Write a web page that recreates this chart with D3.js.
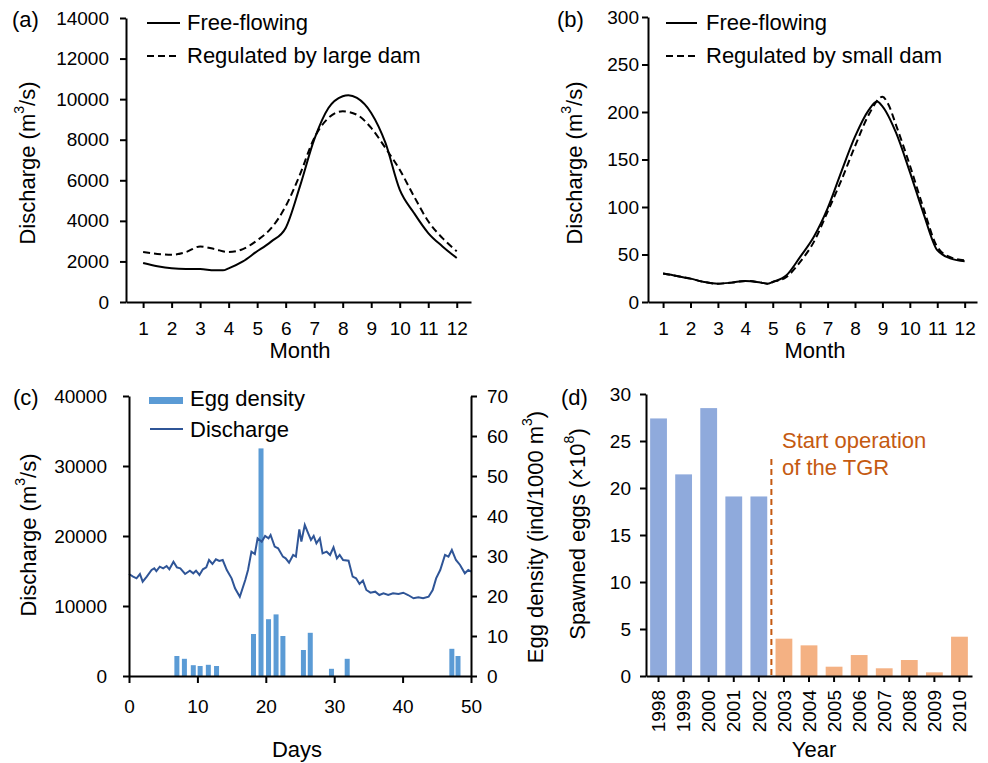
<!DOCTYPE html>
<html>
<head>
<meta charset="utf-8">
<script src="https://cdn.jsdelivr.net/npm/d3@7"></script>
<style>
  body { margin: 0; background: #fff; }
  svg { display: block; font-family: "Liberation Sans", Arial, sans-serif; }
  .axis path, .axis line { stroke: #000; stroke-width: 2; }
  .axis text { font-size: 19px; fill: #000; }
</style>
</head>
<body>
<script>
// (a) large dam, monthly discharge (m3/s)
const aMonths = [1,1.5,2,2.5,3,3.5,3.8,4,4.5,5,5.3,5.5,6,6.5,7,7.5,8,8.2,8.5,9,9.5,10,10.5,11,11.5,12];
const aFree = [1920,1760,1660,1630,1630,1560,1560,1660,2000,2500,2780,2990,3650,5700,8000,9560,10140,10190,10060,9320,7840,5540,4390,3400,2740,2170];
const aRegMonths = [1,1.5,2,2.5,3,3.5,4,4.5,5,5.5,6,6.5,7,7.5,8,8.5,9,9.5,10,10.5,11,11.5,12];
const aReg = [2460,2370,2330,2460,2740,2610,2460,2610,3040,3650,4720,6280,8080,9070,9400,9230,8580,7590,6520,5210,3980,3150,2500];

// (b) small dam
const bMonths = [1,1.5,2,2.5,3,3.5,4,4.5,4.8,5,5.5,6,6.5,7,7.5,8,8.5,8.8,9,9.5,10,10.5,11,11.5,12];
const bFree = [29.9,27.4,24.6,21.1,19.3,20.4,22.2,20.8,19.3,21.1,28.1,47.5,68.6,98.5,137,174,202,211,206,178,137,93,54.5,45.7,42.9];
const bRegMonths = [1,1.5,2,2.5,3,3.5,4,4.5,4.8,5,5.5,6,6.5,7,7.5,8,8.5,9,9.2,9.5,10,10.5,11,11.5,12];
const bReg = [29.9,27.4,24.6,21.1,19.3,20.4,22.2,20.8,19.3,21.1,26.4,42.2,63.3,95,128,164,197,216,209,186,144,98.5,58,46.8,44];

// (c) egg density and discharge over days
const eggDays = [7,8.1,9.4,10.4,11.6,12.8,18.2,19.3,20.4,21.5,22.5,25.5,26.5,29.6,31.9,47.2,48.1];
const eggDensity = [5,4.3,2.7,2.5,2.8,2.5,10.5,56.9,14.2,15.4,10,6.5,10.8,1.8,4.3,6.8,5];
const flowDays = [0,0.6,1.1,1.6,2,2.6,3.3,3.7,4,4.5,5,5.5,5.9,6.5,7,7.5,8.2,8.9,9.4,9.8,10.3,10.8,11.3,11.7,12.2,12.7,13.2,13.7,14.3,15,15.5,16.2,17,17.4,17.9,18.4,18.8,19.4,19.9,20.4,20.7,21.3,21.8,22.5,22.9,23.4,24,24.4,24.9,25.2,25.7,26.2,26.6,27,27.4,27.9,28.3,28.9,29.4,29.9,30.4,30.8,31.3,32.1,32.7,33.2,33.7,34.2,34.7,35.3,36,36.6,37.2,37.9,38.6,39.4,40.1,40.8,41.6,42.3,43,43.8,44.4,44.9,45.5,46.2,46.7,47.2,47.8,48.4,49.1,49.6,50];
const flow = [14570,14200,13950,14570,13480,14200,15140,15380,15000,15620,15380,15710,15240,16330,15520,15380,14570,15050,14670,15050,14430,15240,15520,16570,16000,16670,16430,16570,15140,13950,12520,11330,13710,15140,17760,17430,19670,19190,20000,19670,20140,18480,18240,17050,16810,16190,17290,17050,20950,19190,21570,20380,19430,20000,18950,19670,17520,17760,17290,18380,16810,17290,16570,16480,14190,13950,13140,13620,12290,11900,12050,11570,11810,11570,11810,11710,11900,11570,11100,11240,11100,11330,12290,13950,15140,17290,17050,18000,16570,15860,14670,15140,14900];

// (d) spawned eggs per year (x10^8)
const years = ["1998","1999","2000","2001","2002","2003","2004","2005","2006","2007","2008","2009","2010"];
const spawned = [27.4,21.45,28.5,19.1,19.1,3.97,3.26,0.99,2.23,0.82,1.7,0.39,4.18];

const svg = d3.select("body").append("svg").attr("width", 988).attr("height", 763);
const fmt = d3.format("d");

function txt(x, y, s, size, opts) {
  const t = svg.append("text").attr("x", x).attr("y", y).attr("font-size", size).text(s);
  if (opts && opts.anchor) t.attr("text-anchor", opts.anchor);
  if (opts && opts.fill) t.attr("fill", opts.fill);
  return t;
}
function vlabel(cx, cy, parts) {
  // rotated axis title with optional superscript
  const t = svg.append("text")
    .attr("transform", "translate(" + cx + "," + cy + ") rotate(-90)")
    .attr("text-anchor", "middle").attr("dominant-baseline", "central")
    .attr("font-size", 22);
  parts.forEach(p => {
    const s = t.append("tspan").text(p[0]);
    if (p[1]) s.attr("font-size", 14).attr("dy", -8);
    if (p[2]) s.attr("dy", 8);
  });
}

// ---------- (a) ----------
const xa = d3.scaleLinear().domain([0.4, 12.5]).range([126, 471]);
const ya = d3.scaleLinear().domain([0, 14000]).range([302, 18]);
svg.append("g").attr("class", "axis").attr("transform", "translate(0,302)")
  .call(d3.axisBottom(xa).tickValues(d3.range(1, 13)).tickFormat(fmt).tickSizeInner(6).tickSizeOuter(0).tickPadding(14));
svg.append("g").attr("class", "axis").attr("transform", "translate(126,0)")
  .call(d3.axisLeft(ya).tickValues(d3.range(0, 14001, 2000)).tickFormat(fmt).tickSizeInner(6).tickSizeOuter(0).tickPadding(11));
const lineA = d3.line().curve(d3.curveMonotoneX);
svg.append("path").attr("d", lineA(aMonths.map((m, i) => [xa(m), ya(aFree[i])])))
  .attr("fill", "none").attr("stroke", "#000").attr("stroke-width", 2);
svg.append("path").attr("d", lineA(aRegMonths.map((m, i) => [xa(m), ya(aReg[i])])))
  .attr("fill", "none").attr("stroke", "#000").attr("stroke-width", 2).attr("stroke-dasharray", "7,4");
txt(12, 27, "(a)", 22);
svg.append("line").attr("x1", 147).attr("x2", 180).attr("y1", 23).attr("y2", 23).attr("stroke", "#000").attr("stroke-width", 2);
svg.append("line").attr("x1", 147).attr("x2", 180).attr("y1", 56).attr("y2", 56).attr("stroke", "#000").attr("stroke-width", 2).attr("stroke-dasharray", "7,4");
txt(187, 30, "Free-flowing", 22);
txt(187, 63, "Regulated by large dam", 22);
txt(300, 358, "Month", 22, {anchor: "middle"});
vlabel(27, 163, [["Discharge (m"], ["3", true], ["/s)", false, true]]);

// ---------- (b) ----------
const xb = d3.scaleLinear().domain([0.45, 12.45]).range([648, 977]);
const yb = d3.scaleLinear().domain([0, 300]).range([302, 17]);
svg.append("g").attr("class", "axis").attr("transform", "translate(0,302)")
  .call(d3.axisBottom(xb).tickValues(d3.range(1, 13)).tickFormat(fmt).tickSizeInner(6).tickSizeOuter(0).tickPadding(14));
svg.append("g").attr("class", "axis").attr("transform", "translate(648,0)")
  .call(d3.axisLeft(yb).tickValues(d3.range(0, 301, 50)).tickFormat(fmt).tickSizeInner(6).tickSizeOuter(0).tickPadding(3));
svg.append("path").attr("d", lineA(bMonths.map((m, i) => [xb(m), yb(bFree[i])])))
  .attr("fill", "none").attr("stroke", "#000").attr("stroke-width", 2);
svg.append("path").attr("d", lineA(bRegMonths.map((m, i) => [xb(m), yb(bReg[i])])))
  .attr("fill", "none").attr("stroke", "#000").attr("stroke-width", 2).attr("stroke-dasharray", "7,4");
txt(557, 27, "(b)", 22);
svg.append("line").attr("x1", 666).attr("x2", 697).attr("y1", 23).attr("y2", 23).attr("stroke", "#000").attr("stroke-width", 2);
svg.append("line").attr("x1", 666).attr("x2", 697).attr("y1", 56).attr("y2", 56).attr("stroke", "#000").attr("stroke-width", 2).attr("stroke-dasharray", "7,4");
txt(706, 30, "Free-flowing", 22);
txt(706, 63, "Regulated by small dam", 22);
txt(815, 358, "Month", 22, {anchor: "middle"});
vlabel(574, 163, [["Discharge (m"], ["3", true], ["/s)", false, true]]);

// ---------- (c) ----------
const xc = d3.scaleLinear().domain([0, 50]).range([129, 471]);
const ycL = d3.scaleLinear().domain([0, 40000]).range([676, 396]);
const ycR = d3.scaleLinear().domain([0, 70]).range([676, 396]);
svg.append("g").selectAll("rect").data(eggDays).enter().append("rect")
  .attr("x", (d) => xc(d) - 2.5).attr("width", 5)
  .attr("y", (d, i) => ycR(eggDensity[i]))
  .attr("height", (d, i) => 676 - ycR(eggDensity[i]))
  .attr("fill", "#5B9BD5");
svg.append("path").attr("d", d3.line()(flowDays.map((d, i) => [xc(d), ycL(flow[i])])))
  .attr("fill", "none").attr("stroke", "#2F5597").attr("stroke-width", 2);
svg.append("g").attr("class", "axis").attr("transform", "translate(0,676)")
  .call(d3.axisBottom(xc).tickValues(d3.range(0, 51, 10)).tickFormat(fmt).tickSizeInner(7).tickSizeOuter(0).tickPadding(17));
svg.append("g").attr("class", "axis").attr("transform", "translate(129,0)")
  .call(d3.axisLeft(ycL).tickValues(d3.range(0, 40001, 10000)).tickFormat(fmt).tickSizeInner(6).tickSizeOuter(0).tickPadding(16));
svg.append("g").attr("class", "axis").attr("transform", "translate(471,0)")
  .call(d3.axisRight(ycR).tickValues(d3.range(0, 71, 10)).tickFormat(fmt).tickSizeInner(6).tickSizeOuter(0).tickPadding(10));
txt(13, 405, "(c)", 22);
svg.append("rect").attr("x", 149).attr("y", 397).attr("width", 34).attr("height", 7).attr("fill", "#5B9BD5");
svg.append("line").attr("x1", 150).attr("x2", 183).attr("y1", 429).attr("y2", 429).attr("stroke", "#2F5597").attr("stroke-width", 2);
txt(190, 406, "Egg density", 22);
txt(190, 437, "Discharge", 22);
txt(297, 757, "Days", 22, {anchor: "middle"});
vlabel(28, 535, [["Discharge (m"], ["3", true], ["/s)", false, true]]);
vlabel(535, 537, [["Egg density (ind/1000 m"], ["3", true], [")", false, true]]);

// ---------- (d) ----------
const xd = d3.scaleBand().domain(years).range([646, 972]).paddingInner(0.33).paddingOuter(0.165);
const yd = d3.scaleLinear().domain([0, 30]).range([676, 394]);
svg.append("g").selectAll("rect").data(years).enter().append("rect")
  .attr("x", (d) => xd(d)).attr("width", xd.bandwidth())
  .attr("y", (d, i) => yd(spawned[i]))
  .attr("height", (d, i) => 676 - yd(spawned[i]))
  .attr("fill", (d) => +d < 2003 ? "#8FAADC" : "#F4B183");
const gx = svg.append("g").attr("class", "axis").attr("transform", "translate(0,676)")
  .call(d3.axisBottom(xd).tickSizeInner(6).tickSizeOuter(0).tickPadding(8));
gx.selectAll(".tick text")
  .attr("transform", "rotate(-90)").attr("text-anchor", "end")
  .attr("x", -14).attr("y", 0).attr("dy", "0.35em");
svg.append("g").attr("class", "axis").attr("transform", "translate(646,0)")
  .call(d3.axisLeft(yd).tickValues(d3.range(0, 31, 5)).tickFormat(fmt).tickSizeInner(6).tickSizeOuter(0).tickPadding(9));
const tgrX = (xd("2002") + xd("2003") + xd.bandwidth()) / 2;
svg.append("line").attr("x1", tgrX).attr("x2", tgrX).attr("y1", 459).attr("y2", 676)
  .attr("stroke", "#C55A11").attr("stroke-width", 2).attr("stroke-dasharray", "6,4");
txt(782, 448, "Start operation", 22, {fill: "#C55A11"});
txt(782, 475, "of the TGR", 22, {fill: "#C55A11"});
txt(561, 405, "(d)", 22);
txt(814, 757, "Year", 22, {anchor: "middle"});
vlabel(577, 534, [["Spawned eggs ("], ["×"], ["10"], ["8", true], [")", false, true]]);
</script>
</body>
</html>
